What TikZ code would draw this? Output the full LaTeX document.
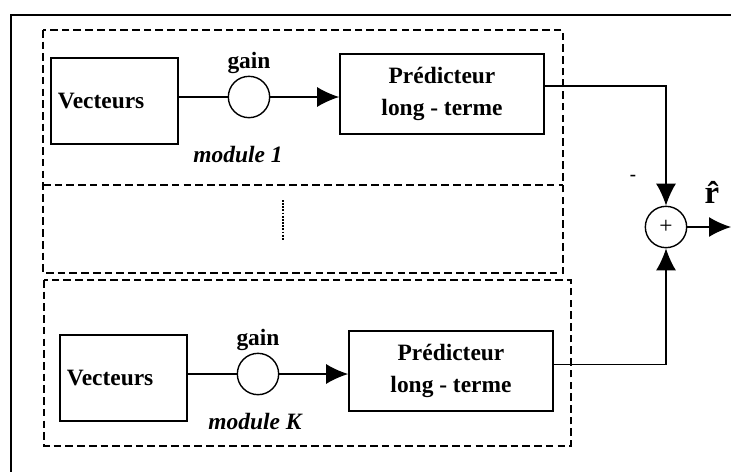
\documentclass[tikz,border=0pt]{standalone}
\usepackage{fontspec}
\setmainfont{Liberation Serif}
\usepackage{tikz}
\usetikzlibrary{arrows.meta, positioning}

\begin{document}
\begin{tikzpicture}[x=0.03cm, y=-0.03cm,
  font=\fontsize{20}{27}\selectfont\bfseries,
  vbox/.style={draw, line width=1.4pt, minimum width=3.81cm, minimum height=2.58cm, text width=3.39cm, inner xsep=0.21cm, align=left},
  pbox/.style={draw, line width=1.4pt, minimum width=6.12cm, minimum height=2.4cm, align=center},
  gainc/.style={draw, circle, line width=1.2pt, minimum size=1.24cm, inner sep=0pt},
  arr/.style={line width=1.2pt, -{Latex[length=0.66cm, width=0.6cm]}},
  grp/.style={line width=2pt, dash pattern=on 6.5pt off 3.5pt}]
  \useasboundingbox (0,0) rectangle (731,472);
  \draw[line width=2.4pt] (731,15) -- (11,15) -- (11,472);
  \draw[grp] (43,30) rectangle (563,273);
  \draw[grp] (43,185) -- (563,185);
  \draw[grp] (44,280) rectangle (571,446);
  \draw[line width=1.4pt, dash pattern=on 1.5pt off 1.2pt] (283,200) -- (283,240);
  \foreach \m/\dx/\dy/\mx/\my in {1/0/0/238/155, K/9/277/255/422}{
    \node[vbox] (V\m) at (114.5+\dx,101+\dy) {Vecteurs};
    \node[gainc] (G\m) at (249+\dx,97+\dy) {};
    \node (gl\m) at (249+\dx,63+\dy) {gain};
    \node[pbox] (P\m) at (442+\dx,94+\dy) {Prédicteur\\long - terme};
    \node (ml\m) at (\mx,\my) {\itshape module \m};
    \draw[line width=1.2pt] (V\m.east |- G\m) -- (G\m);
    \draw[arr] (G\m) -- (P\m.west |- G\m);
  }
  \node[gainc] (add) at (666,227) {\fontsize{20}{20}\selectfont\mdseries +};
  \node (minus) at (633,178) {\fontsize{16}{16}\selectfont -};
  \node (rhat) at (712,192) {\fontsize{28}{30}\selectfont\^{r}};
  \coordinate (rout) at (731,227);
  \draw[arr] ([yshift=0.24cm]P1.east) -| (add.north);
  \draw[arr] ([yshift=0.2cm]PK.east) -| (add.south);
  \draw[arr] (add) -- (rout);
\end{tikzpicture}
\end{document}
